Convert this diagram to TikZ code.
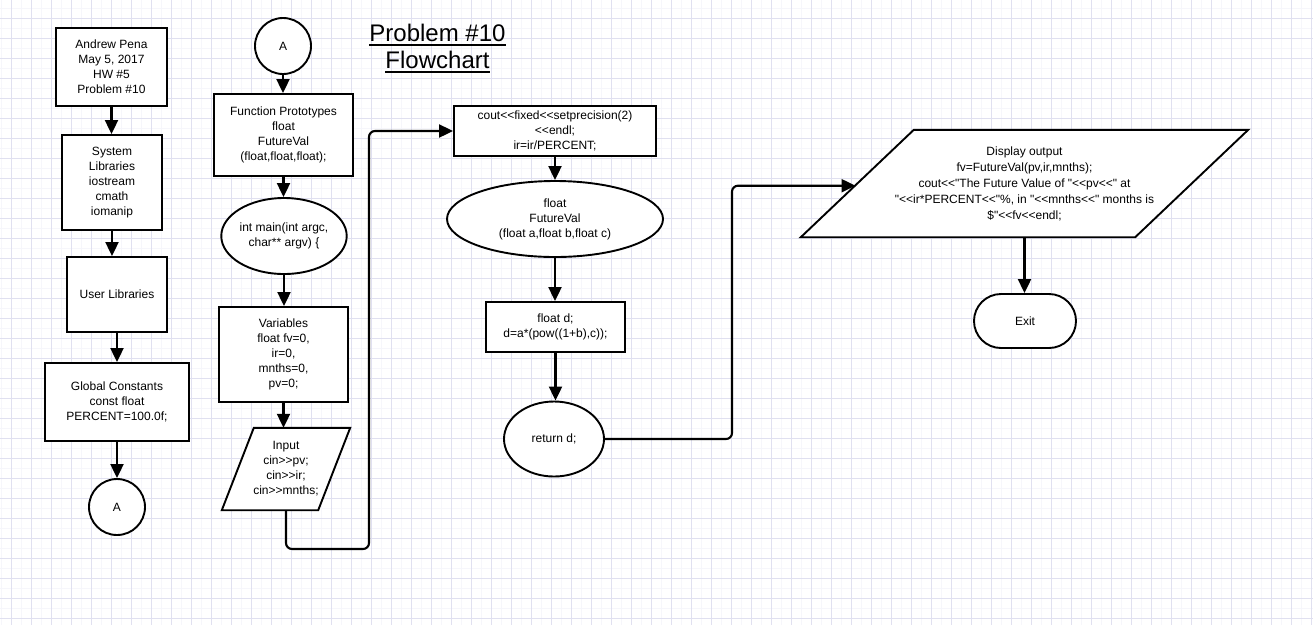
\documentclass[tikz,border=0pt]{standalone}
\usepackage{fontspec}
\newfontfamily\arial{Liberation Sans}
\usetikzlibrary{arrows.meta,shapes.geometric}
\definecolor{gridmaj}{RGB}{224,224,240}
\definecolor{gridmin}{RGB}{246,246,251}
\begin{document}
\begin{tikzpicture}[x=1pt,y=-1pt,
  every node/.style={font=\arial\fontsize{12}{15}\selectfont, align=center, inner sep=0pt},
  shp/.style={draw=black, line width=1.9pt, fill=white},
  box/.style={shp, rectangle},
  circ/.style={shp, circle, minimum size=56pt},
  oval/.style={shp, ellipse},
  conn/.style={line width=2.1pt, -{Triangle[length=14pt,width=13pt]}},
  link/.style={conn, rounded corners=6pt}]
\useasboundingbox (0,0) rectangle (1313,625);
\fill[white] (0,0) rectangle (1313,625);
% grid
\foreach \gx in {1.7,21.7,...,1313} \draw[gridmin, line width=0.6pt] (\gx,0) -- (\gx,625);
\foreach \gy in {8.3,28.3,...,625} \draw[gridmin, line width=0.6pt] (0,\gy) -- (1313,\gy);
\foreach \gx in {11.7,31.7,...,1313} \draw[gridmaj, line width=0.8pt] (\gx,0) -- (\gx,625);
\foreach \gy in {18.3,38.3,...,625} \draw[gridmaj, line width=0.8pt] (0,\gy) -- (1313,\gy);

% title
\node[font=\arial\fontsize{24}{28}\selectfont, anchor=base] (t1) at (437.5,41.7) {Problem \#10};
\node[font=\arial\fontsize{24}{28}\selectfont, anchor=base] (t2) at (437.5,68.3) {Flowchart};
\draw[line width=1.6pt] ([yshift=-3.5pt]t1.base west) -- ([yshift=-3.5pt]t1.base east);
\draw[line width=1.6pt] ([yshift=-3.5pt]t2.base west) -- ([yshift=-3.5pt]t2.base east);

% column 1
\node[box, minimum width=111pt, minimum height=78pt] (n1) at (111.5,67) {Andrew Pena\\May 5, 2017\\HW \#5\\Problem \#10};
\node[box, minimum width=100pt, minimum height=95pt] (n2) at (112,182.5) {System\\Libraries\\iostream\\cmath\\iomanip};
\node[box, minimum width=100pt, minimum height=75pt] (n3) at (117,294.5) {User Libraries};
\node[box, minimum width=144pt, minimum height=78pt] (n4) at (117,402) {Global Constants\\const float\\PERCENT=100.0f;};
\node[circ] (cA1) at (117,507) {A};

% column 2
\node[circ] (cA2) at (283,46) {A};
\node[box, minimum width=139pt, minimum height=82pt] (fp) at (283.5,135) {Function Prototypes\\float\\FutureVal\\(float,float,float);};
\node[oval, minimum width=115pt, minimum height=76pt] (mn) at (284,236) {int main(int argc,\\char** argv) \{};
\node[box, minimum width=129pt, minimum height=95pt] (vars) at (283.5,354.5) {Variables\\float fv=0,\\ir=0,\\mnths=0,\\pv=0;};
\node[minimum width=128pt, minimum height=82pt] (inp) at (286,469) {};
\draw[shp] ([xshift=32pt]inp.north west) -- (inp.north east) -- ([xshift=-32pt]inp.south east) -- (inp.south west) -- cycle;
\node at (inp.center) {Input\\cin>>pv;\\cin>>ir;\\cin>>mnths;};

% column 3
\node[box, minimum width=202pt, minimum height=50pt] (cout) at (555,131) {cout<<fixed<<setprecision(2)\\<<endl;\\ir=ir/PERCENT;};
\node[oval, minimum width=216pt, minimum height=76pt] (fv) at (555,219) {float\\FutureVal\\(float a,float b,float c)};
\node[box, minimum width=139pt, minimum height=50pt] (fd) at (555.5,327) {float d;\\d=a*(pow((1+b),c));};
\node[oval, minimum width=100pt, minimum height=75pt] (ret) at (554,439) {return d;};

% column 4
\node[minimum width=447pt, minimum height=107pt] (disp) at (1024.5,183.5) {};
\draw[shp] ([xshift=113pt]disp.north west) -- (disp.north east) -- ([xshift=-113pt]disp.south east) -- (disp.south west) -- cycle;
\node[font=\arial\fontsize{12}{16}\selectfont] at (disp.center) {Display output\\fv=FutureVal(pv,ir,mnths);\\cout<<"The Future Value of "<<pv<<" at\\"<<ir*PERCENT<<"\%, in "<<mnths<<" months is\\\$"<<fv<<endl;};
\node[box, rounded corners=27pt, minimum width=102pt, minimum height=54pt] (ex) at (1025,321) {Exit};

% connectors
\draw[conn] (n1.south) -- (n1.south |- n2.north);
\draw[conn] (n2.south) -- (n2.south |- n3.north);
\draw[conn] (n3.south) -- (n3.south |- n4.north);
\draw[conn] (n4.south) -- (n4.south |- cA1.north);
\draw[conn] (cA2.south) -- (cA2.south |- fp.north);
\draw[conn] (fp.south) -- (fp.south |- mn.north);
\draw[conn] (mn.south) -- (mn.south |- vars.north);
\draw[conn] (vars.south) -- (vars.south |- inp.north);
\coordinate (c1) at (369,549);
\draw[link] (inp.south) -- (inp.south |- c1) -- (c1) -- (c1 |- cout.west) -- (cout.west);
\draw[conn] (cout.south) -- (cout.south |- fv.north);
\draw[conn] (fv.south) -- (fv.south |- fd.north);
\draw[conn] (fd.south) -- (fd.south |- ret.north);
\coordinate (c2) at (732,439);
\coordinate (dispin) at (855.5,185.7);
\draw[link] (ret.east) -- (c2) -- (c2 |- dispin) -- (dispin);
\draw[conn] (disp.south) -- (disp.south |- ex.north);
\end{tikzpicture}
\end{document}
